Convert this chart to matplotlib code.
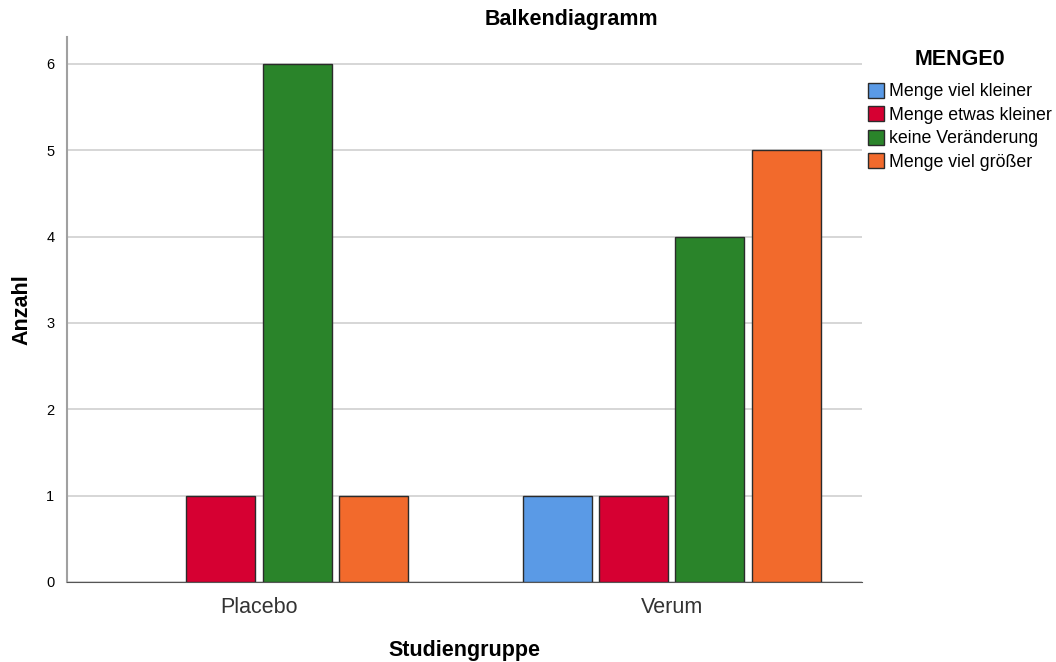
import matplotlib
matplotlib.use("Agg")
import numpy as np
import matplotlib.pyplot as plt
from matplotlib.patches import Patch

groups = ["Placebo", "Verum"]
categories = ["Menge viel kleiner", "Menge etwas kleiner",
              "keine Veränderung", "Menge viel größer"]
# counts per category, one entry per group
viel_kleiner = [0, 1]
etwas_kleiner = [1, 1]
keine_aenderung = [6, 4]
viel_groesser = [1, 5]
colors = ["#5a9ae6", "#d60032", "#2a842a", "#f26a2c"]

plt.rcParams["font.family"] = ["Liberation Sans", "DejaVu Sans"]

fig = plt.figure(figsize=(10.56, 6.62), dpi=100)
ax = fig.add_axes([0.0634, 0.121, 0.816 - 0.0634, 0.944 - 0.121])

x = np.arange(len(groups))
step = 0.185
width = 0.167
series = [viel_kleiner, etwas_kleiner, keine_aenderung, viel_groesser]
for i, (vals, col) in enumerate(zip(series, colors)):
    offs = (i - 1.5) * step
    for xi, v in zip(x, vals):
        if v > 0:
            ax.bar(xi + offs, v, width=width, color=col,
                   edgecolor="#2b2b2b", linewidth=1.0, zorder=3)

ax.set_xlim(-0.465, 1.46)
ax.set_ylim(0, 6.31)
ax.set_yticks(range(7))
ax.set_xticks(x)
ax.set_xticklabels(groups, fontsize=15.5, color="#333333")
ax.tick_params(axis="y", labelsize=10.5, length=0, pad=9)
ax.tick_params(axis="x", length=0, pad=11)
ax.yaxis.grid(True, color="#d0d0d0", linewidth=1.2, zorder=0)
ax.set_axisbelow(True)
for s in ["top", "right"]:
    ax.spines[s].set_visible(False)
ax.spines["left"].set_color("#a0a0a0")
ax.spines["left"].set_linewidth(1.5)
ax.spines["bottom"].set_color("#555555")

ax.set_xlabel("Studiengruppe", fontsize=15.5, fontweight="bold", labelpad=16)
ax.set_ylabel("Anzahl", fontsize=15.5, fontweight="bold", labelpad=10)
fig.text(0.541, 0.971, "Balkendiagramm", ha="center", va="center",
         fontsize=15.5, fontweight="bold")

# legend title drawn separately so the gap to the entries can be set
fig.text(0.909, 0.910, "MENGE0", ha="center", va="center",
         fontsize=15.5, fontweight="bold")
handles = [Patch(facecolor=c, edgecolor="#2b2b2b", linewidth=1.0)
           for c in colors]
fig.legend(handles, categories, loc="upper left",
           bbox_to_anchor=(0.8216, 0.875), frameon=False,
           fontsize=12.8, handlelength=0.9, handleheight=0.9,
           handletextpad=0.3, labelspacing=0.34,
           borderaxespad=0, borderpad=0)

fig.savefig("out.png", dpi=100)
